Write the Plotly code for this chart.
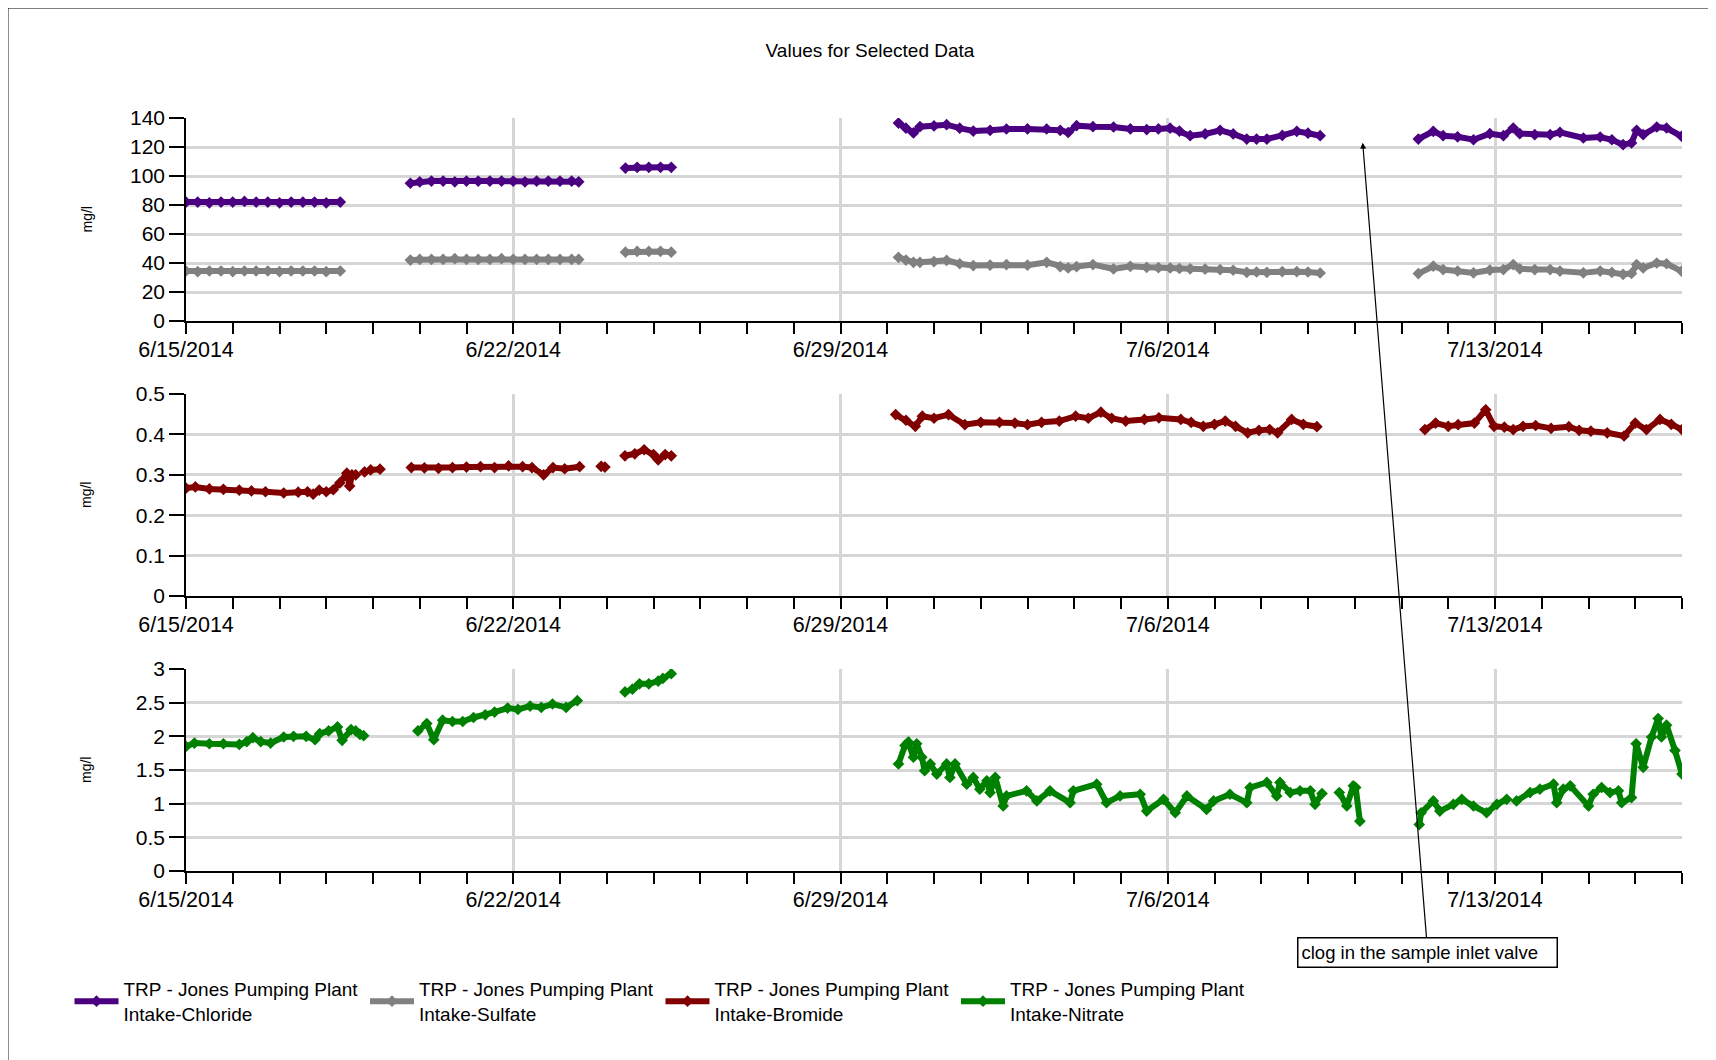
import pandas as pd
import plotly.graph_objects as go

BASE = pd.Timestamp("2014-06-15")

# ---- data: day offsets since 6/15/2014 (None = gap) and values (mg/l) ----
chloride_days = [0.0, 0.25, 0.5, 0.75, 1.0, 1.25, 1.5, 1.75, 2.0, 2.25, 2.5, 2.75, 3.0, 3.3, None,
                 4.8, 5.0, 5.25, 5.5, 5.75, 6.0, 6.25, 6.5, 6.75, 7.0, 7.25, 7.5, 7.75, 8.0, 8.25, 8.4, None,
                 9.4, 9.65, 9.9, 10.15, 10.38, None,
                 15.24, 15.4, 15.56, 15.70, 16.0, 16.27, 16.55, 16.84, 17.2, 17.55, 18.0, 18.41, 18.7, 18.87,
                 19.05, 19.4, 19.84, 20.2, 20.55, 20.8, 21.05, 21.25, 21.48, 21.8, 22.12, 22.4, 22.69, 22.9,
                 23.12, 23.45, 23.76, 24.0, 24.26, None,
                 26.36, 26.68, 26.89, 27.2, 27.54, 27.89, 28.18, 28.39, 28.53, 28.85, 29.18, 29.39, 29.89,
                 30.25, 30.5, 30.74, 30.92, 31.03, 31.17, 31.46, 31.67, 31.99]
chloride_vals = [82, 82, 81.5, 82, 82, 82.5, 82, 82, 81.5, 82, 82, 82, 81.5, 82, None,
                 95, 96, 96.5, 96.5, 96, 96.5, 96.5, 96.5, 96.5, 96.5, 96, 96.5, 96.5, 96.5, 96.5, 96, None,
                 105.5, 106, 106, 106, 106, None,
                 136.5, 133, 129.7, 134, 134.5, 135.4, 133, 131, 131.5, 132.4, 132.5, 132.4, 131.5, 130,
                 134.7, 134, 133.8, 132.5, 132, 132.5, 133, 131, 127.8, 129, 131.5, 129, 125.5, 125.5,
                 125.5, 128, 130.8, 129.5, 127.8, None,
                 125.5, 130.8, 127.8, 127, 125, 129.2, 127.8, 133.1, 129.2, 128.5, 128.5, 130.1, 126.2,
                 126.9, 125, 121.6, 122.8, 131.5, 128.5, 133.8, 133.1, 127.4]

sulfate_days = chloride_days
sulfate_vals = [34.5, 34, 34.5, 34.5, 34, 34.5, 34.5, 34.5, 34, 34.5, 34.5, 34.5, 34, 34.5, None,
                42, 42.5, 42.5, 42.5, 43, 42.5, 42.5, 42.5, 43, 42.5, 42.5, 42.5, 42.5, 42.5, 42.5, 42.5, None,
                47.5, 48, 48, 48, 47.5, None,
                43.9, 42, 40.5, 40.5, 41, 41.8, 39.5, 38.2, 38.5, 38.9, 38.5, 40.5, 37.5, 36.6,
                37.5, 38.9, 35.9, 37.7, 37, 36.8, 36.6, 36.2, 36, 35.8, 35.4, 35, 33.6, 33.8,
                33.6, 34, 34, 33.8, 33.1, None,
                32.7, 37.8, 35.5, 34.5, 33.2, 35.1, 35.5, 38.9, 36, 35.5, 35.5, 34.4, 33.2,
                34.4, 33.5, 32.2, 32.8, 38.9, 36.6, 40, 39.5, 34.4]

bromide_days = [0.0, 0.2, 0.5, 0.8, 1.14, 1.4, 1.7, 2.09, 2.4, 2.6, 2.72, 2.85, 3.0, 3.15, 3.29, 3.44, 3.5, 3.55, 3.63, None,
                3.82, 3.95, 4.15, None,
                4.82, 5.1, 5.4, 5.7, 6.0, 6.3, 6.6, 6.9, 7.2, 7.4, 7.65, 7.85, 8.1, 8.42, None,
                8.88, 8.96, None,
                9.39, 9.6, 9.8, 10.0, 10.1, 10.25, 10.38, None,
                15.18, 15.4, 15.6, 15.75, 16.0, 16.31, 16.66, 17.0, 17.4, 17.73, 18.0, 18.3, 18.68, 19.03,
                19.3, 19.57, 19.8, 20.1, 20.5, 20.81, 21.28, 21.5, 21.76, 22.0, 22.23, 22.45, 22.71, 22.95,
                23.18, 23.35, 23.65, 23.9, 24.19, None,
                26.5, 26.73, 27.0, 27.21, 27.56, 27.8, 27.98, 28.2, 28.39, 28.6, 28.87, 29.2, 29.58, 29.8,
                30.05, 30.4, 30.76, 31.0, 31.24, 31.53, 31.77, 32.0]
bromide_vals = [0.267, 0.270, 0.265, 0.264, 0.262, 0.260, 0.258, 0.255, 0.257, 0.258, 0.252, 0.262, 0.258, 0.263,
                0.280, 0.304, 0.272, 0.300, 0.300, None,
                0.307, 0.312, 0.314, None,
                0.318, 0.317, 0.316, 0.318, 0.319, 0.320, 0.318, 0.322, 0.320, 0.318, 0.300, 0.318, 0.315, 0.320, None,
                0.321, 0.319, None,
                0.347, 0.352, 0.362, 0.350, 0.337, 0.350, 0.347, None,
                0.449, 0.435, 0.420, 0.445, 0.440, 0.449, 0.424, 0.430, 0.430, 0.428, 0.424, 0.430, 0.433, 0.445,
                0.440, 0.455, 0.440, 0.433, 0.437, 0.441, 0.437, 0.430, 0.420, 0.425, 0.433, 0.420, 0.404, 0.410,
                0.412, 0.404, 0.437, 0.425, 0.419, None,
                0.412, 0.428, 0.420, 0.424, 0.428, 0.461, 0.420, 0.418, 0.412, 0.420, 0.422, 0.415, 0.419, 0.410,
                0.408, 0.404, 0.396, 0.428, 0.412, 0.437, 0.425, 0.412]

nitrate_days = [0.0, 0.18, 0.5, 0.8, 1.14, 1.3, 1.43, 1.6, 1.81, 2.09, 2.3, 2.57, 2.76, 2.86, 3.05, 3.24, 3.34, 3.53, 3.63, None,
                3.72, 3.8, None,
                4.96, 5.15, 5.3, 5.49, 5.7, 5.92, 6.15, 6.4, 6.6, 6.88, 7.1, 7.36, 7.6, 7.84, 8.13, 8.37, None,
                9.39, 9.55, 9.7, 9.9, 10.1, 10.2, 10.38, None,
                15.24, 15.38, 15.45, 15.56, 15.63, 15.74, 15.8, 15.92, 16.06, 16.27, 16.34, 16.45, 16.70, 16.84,
                16.98, 17.13, 17.20, 17.31, 17.48, 17.55, 17.98, 18.2, 18.48, 18.91, 18.98, 19.48, 19.69, 19.98,
                20.41, 20.55, 20.91, 21.16, 21.41, 21.83, 21.98, 22.33, 22.69, 22.76, 23.12, 23.33, 23.40, 23.62,
                23.83, 24.05, 24.15, 24.30, None,
                24.67, 24.83, 24.97, 25.02, 25.11, None,
                26.38, 26.42, 26.68, 26.82, 27.11, 27.29, 27.54, 27.82, 28.04, 28.25, None,
                28.46, 28.75, 28.96, 29.25, 29.32, 29.46, 29.61, 30.0, 30.1, 30.28, 30.46, 30.64, 30.71, 30.92,
                31.02, 31.17, 31.35, 31.49, 31.56, 31.67, 31.85, 32.0]
nitrate_vals = [1.85, 1.90, 1.89, 1.89, 1.88, 1.92, 1.98, 1.92, 1.90, 1.99, 2.00, 2.00, 1.95, 2.04, 2.08, 2.14, 1.94, 2.10, 2.08, None,
                2.03, 2.01, None,
                2.08, 2.19, 1.95, 2.24, 2.22, 2.22, 2.28, 2.32, 2.36, 2.42, 2.40, 2.45, 2.43, 2.48, 2.43, 2.53, None,
                2.66, 2.70, 2.78, 2.78, 2.82, 2.86, 2.93, None,
                1.59, 1.865, 1.915, 1.69, 1.89, 1.69, 1.49, 1.59, 1.44, 1.59, 1.39, 1.59, 1.29, 1.39,
                1.215, 1.34, 1.165, 1.39, 0.965, 1.115, 1.19, 1.04, 1.19, 1.015, 1.19, 1.29, 1.015, 1.115,
                1.14, 0.89, 1.065, 0.865, 1.115, 0.915, 1.04, 1.14, 1.015, 1.24, 1.315, 1.115, 1.315, 1.165,
                1.19, 1.19, 0.99, 1.15, None,
                1.165, 0.965, 1.265, 1.24, 0.74, None,
                0.69, 0.865, 1.04, 0.89, 0.99, 1.065, 0.965, 0.865, 0.99, 1.065, None,
                1.04, 1.165, 1.215, 1.29, 1.015, 1.215, 1.265, 0.965, 1.14, 1.24, 1.165, 1.19, 1.015, 1.09,
                1.89, 1.54, 1.99, 2.265, 1.99, 2.165, 1.79, 1.44]

week_ticks = ["2014-06-15", "2014-06-22", "2014-06-29", "2014-07-06", "2014-07-13"]
week_labels = ["6/15/2014", "6/22/2014", "6/29/2014", "7/6/2014", "7/13/2014"]
x_range = ["2014-06-15", "2014-07-17"]

series = [
    ("TRP - Jones Pumping Plant<br>Intake-Chloride", chloride_days, chloride_vals, "#4B0082", "x", "y"),
    ("TRP - Jones Pumping Plant<br>Intake-Sulfate", sulfate_days, sulfate_vals, "#808080", "x", "y"),
    ("TRP - Jones Pumping Plant<br>Intake-Bromide", bromide_days, bromide_vals, "#800000", "x2", "y2"),
    ("TRP - Jones Pumping Plant<br>Intake-Nitrate", nitrate_days, nitrate_vals, "#008000", "x3", "y3"),
]


def to_dates(days):
    return [None if d is None else BASE + pd.Timedelta(days=d) for d in days]


FONT = "Liberation Sans, Arial, sans-serif"
fig = go.Figure()
for name, d, v, c, xa, ya in series:
    fig.add_trace(go.Scatter(
        x=to_dates(d), y=v, name=name, mode="lines+markers",
        line=dict(color=c, width=6), marker=dict(symbol="diamond", size=9, color=c),
        connectgaps=False, xaxis=xa, yaxis=ya))

# the page adds an 8px body margin; lay the figure out in page pixels
OFF = 8
W, H = 1716 - OFF, 1060 - OFF
L, R, T, B = 186 - OFF, 34, 118 - OFF, 1060 - 871
ph = H - T - B


def pdy(py):  # page pixel y -> paper
    return (H - B - (py - OFF)) / ph


def pdx(px):  # page pixel x -> paper
    return ((px - OFF) - L) / (W - L - R)


grid = "#d6d6d6"
xcommon = dict(type="date", range=x_range, tickvals=week_ticks, ticktext=week_labels,
               ticks="outside", ticklen=11, tickwidth=1.5, tickcolor="black",
               showline=True, linecolor="black", linewidth=1.5,
               showgrid=True, gridcolor=grid, gridwidth=3, zeroline=False,
               ticklabelstandoff=-3,
               minor=dict(dtick=86400000, tick0="2014-06-15", ticks="outside", ticklen=11,
                          tickwidth=1.5, tickcolor="black", showgrid=False),
               tickfont=dict(size=21.5, color="black", family=FONT), domain=[0, 1])
ycommon = dict(ticks="outside", ticklen=15, tickwidth=1.5, tickcolor="black",
               showline=True, linecolor="black", linewidth=1.5,
               showgrid=True, gridcolor=grid, gridwidth=3, zeroline=False,
               tickfont=dict(size=21, color="black", family=FONT))

fig.update_layout(
    width=W, height=H, autosize=False,
    margin=dict(l=L, r=R, t=T, b=B, pad=0),
    paper_bgcolor="white", plot_bgcolor="white",
    font=dict(family=FONT, color="black"),
    title=dict(text="Values for Selected Data", x=(870 - OFF) / W, xref="container", xanchor="center",
               y=1 - (50 - OFF) / H, yref="container", yanchor="middle", font=dict(size=19, color="black")),
    xaxis=dict(**xcommon, anchor="y"),
    xaxis2=dict(**xcommon, anchor="y2"),
    xaxis3=dict(**xcommon, anchor="y3"),
    yaxis=dict(**ycommon, range=[0, 140], dtick=20, domain=[pdy(321), pdy(118)], anchor="x"),
    yaxis2=dict(**ycommon, range=[0, 0.5], dtick=0.1, domain=[pdy(596), pdy(394)], anchor="x2"),
    yaxis3=dict(**ycommon, range=[0, 3], dtick=0.5, domain=[pdy(871), pdy(669)], anchor="x3"),
    showlegend=True,
    legend=dict(orientation="h", x=pdx(69.5), xanchor="left", y=pdy(970), yanchor="top",
                entrywidth=236.5, entrywidthmode="pixels", font=dict(size=19, color="black"),
                bgcolor="rgba(0,0,0,0)", itemwidth=44, tracegroupgap=0),
)

for yc in (219.5, 495, 770):
    fig.add_annotation(text="mg/l", xref="paper", yref="paper", x=pdx(86), y=pdy(yc),
                       xanchor="center", yanchor="middle",
                       showarrow=False, textangle=-90, font=dict(size=14, color="black"))

fig.add_annotation(
    text="clog in the sample inlet valve", xref="x", yref="y",
    x=BASE + pd.Timedelta(days=25.17), y=123,
    ax=65, ay=810, showarrow=True, arrowhead=2, arrowsize=1, arrowwidth=1.2, arrowcolor="black",
    bordercolor="black", borderwidth=1.5, borderpad=3, bgcolor="white", align="left",
    width=252, height=22, font=dict(size=18.5, color="black"))

fig.add_shape(type="rect", xref="paper", yref="paper",
              x0=pdx(7.7), x1=pdx(1709), y0=pdy(1080), y1=pdy(7.7),
              line=dict(color="black", width=1.5), fillcolor="rgba(0,0,0,0)", layer="above")

fig.write_html("out.html")
